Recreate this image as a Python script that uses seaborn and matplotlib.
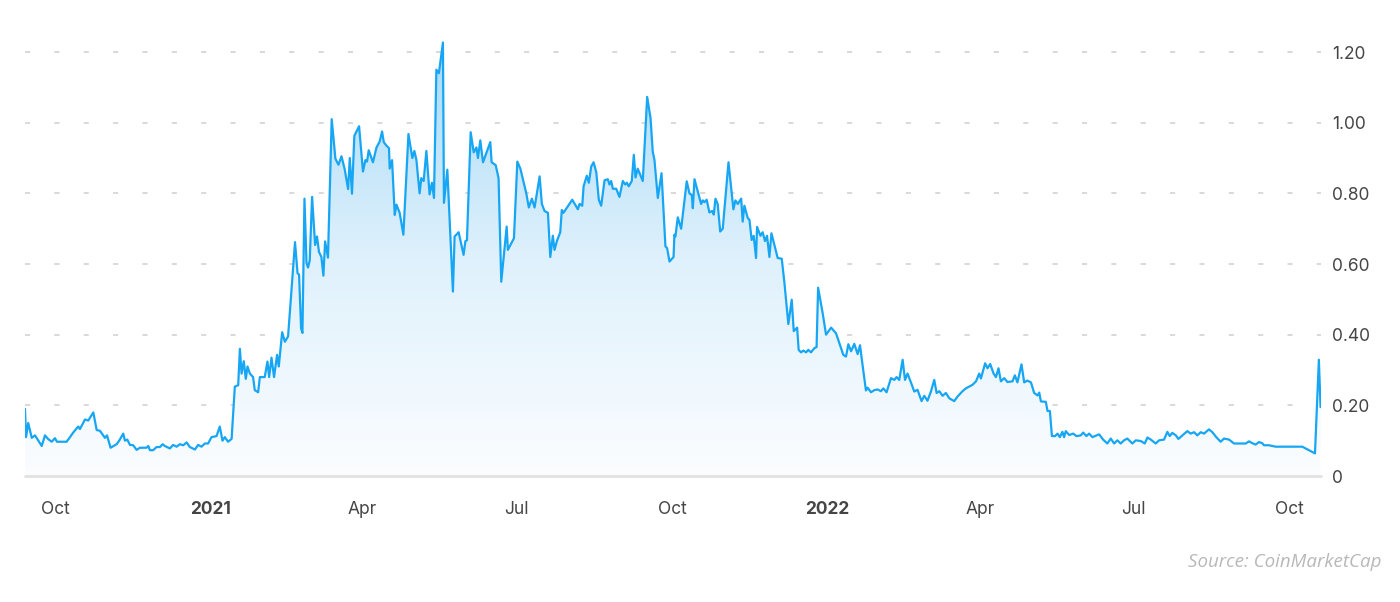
import numpy as np
import pandas as pd
import matplotlib
matplotlib.use("Agg")
import matplotlib.pyplot as plt
import matplotlib.dates as mdates
from matplotlib.colors import LinearSegmentedColormap
from matplotlib.patches import PathPatch
import seaborn as sns

# ---- data (days counted from START) ----
START = "2020-09-13"

day_offset = [
    0.3, 0.9, 2.2, 4.3, 6.2, 10.2, 12.1, 13.9, 16.1, 18.0,
    19.2, 24.9, 26.9, 28.8, 31.8, 32.8, 35.8, 37.7, 40.7, 42.7,
    44.6, 47.6, 48.8, 50.9, 54.5, 56.0, 58.4, 59.4, 60.8, 62.4,
    64.3, 66.3, 68.3, 72.2, 73.2, 74.2, 76.1, 78.1, 80.1, 81.7,
    83.0, 86.0, 87.9, 90.0, 91.9, 93.9, 95.9, 97.8, 100.8, 102.7,
    104.7, 106.7, 108.6, 110.6, 113.6, 115.5, 117.1, 118.5, 120.4, 122.5,
    124.4, 126.4, 127.4, 128.4, 129.7, 130.9, 131.9, 133.3, 135.2, 136.2,
    138.2, 139.2, 142.1, 143.7, 144.7, 146.1, 147.6, 149.4, 150.4, 152.4,
    154.0, 155.9, 157.9, 160.0, 161.5, 162.4, 163.6, 164.4, 165.6, 166.8,
    167.7, 168.7, 170.1, 171.9, 173.0, 174.2, 175.6, 176.8, 177.8, 179.5,
    181.7, 183.9, 185.7, 187.5, 189.4, 191.4, 192.4, 193.7, 195.1, 197.9,
    200.2, 201.6, 202.6, 203.6, 206.1, 208.2, 210.1, 211.5, 212.5, 214.1,
    215.6, 216.0, 217.4, 219.0, 220.0, 221.9, 224.1, 227.1, 229.4, 230.6,
    231.8, 233.7, 234.7, 236.1, 237.7, 239.6, 241.0, 242.2, 243.6, 245.1,
    247.5, 248.1, 250.1, 253.4, 254.4, 256.8, 259.7, 260.8, 261.7, 263.9,
    265.7, 267.3, 268.2, 269.6, 271.2, 275.5, 276.3, 278.7, 280.4, 282.0,
    285.2, 285.9, 289.5, 291.5, 293.3, 296.8, 298.3, 300.1, 301.7, 304.7,
    306.0, 307.6, 309.6, 311.0, 312.5, 313.5, 314.9, 316.9, 317.8, 318.8,
    324.0, 327.3, 328.3, 329.9, 330.7, 332.6, 333.8, 335.2, 336.6, 338.2,
    339.7, 341.1, 343.1, 345.0, 346.0, 347.0, 348.0, 350.0, 351.9, 353.9,
    355.3, 356.3, 357.4, 359.2, 360.4, 361.4, 362.7, 365.7, 368.3, 370.3,
    371.6, 372.6, 374.6, 376.8, 379.1, 380.1, 381.5, 383.9, 384.4, 385.0,
    386.4, 388.4, 391.7, 393.3, 394.7, 395.3, 396.3, 400.2, 401.2, 402.2,
    403.5, 405.1, 406.7, 407.7, 408.7, 410.0, 411.5, 413.0, 416.4, 419.3,
    420.5, 421.9, 423.9, 424.8, 425.8, 427.8, 428.8, 430.1, 431.3, 432.7,
    433.3, 435.3, 436.6, 438.0, 439.2, 440.6, 441.8, 445.5, 447.9, 449.5,
    451.8, 453.8, 455.0, 457.0, 457.9, 459.3, 460.7, 462.3, 463.6, 465.2,
    467.2, 468.5, 469.4, 472.1, 474.1, 477.1, 480.0, 484.3, 485.9, 487.3,
    488.9, 490.8, 492.8, 494.2, 495.7, 497.7, 498.7, 500.7, 502.6, 504.6,
    506.6, 508.0, 509.9, 512.5, 514.5, 515.8, 517.4, 519.4, 520.8, 522.3,
    524.3, 526.3, 528.2, 530.6, 532.2, 534.1, 536.2, 538.1, 539.5, 541.1,
    543.0, 545.0, 547.0, 549.9, 551.9, 554.8, 556.8, 558.8, 560.7, 562.8,
    564.7, 565.7, 568.2, 569.6, 571.2, 573.2, 574.6, 576.1, 577.5, 579.5,
    581.4, 584.4, 585.8, 587.3, 589.7, 591.3, 593.2, 595.3, 597.2, 599.2,
    600.2, 601.2, 604.1, 605.1, 606.5, 607.7, 609.6, 611.0, 612.4, 613.9,
    614.9, 615.9, 617.9, 620.3, 622.2, 624.8, 626.2, 628.1, 629.7, 631.7,
    635.6, 638.0, 640.5, 642.5, 644.5, 646.4, 648.4, 650.4, 652.3, 655.3,
    657.3, 660.3, 662.6, 664.2, 666.2, 669.1, 671.1, 674.0, 676.0, 677.4,
    678.9, 681.0, 682.5, 684.9, 687.8, 689.8, 691.8, 693.7, 695.7, 697.7,
    700.6, 702.6, 704.9, 707.5, 709.5, 712.5, 715.4, 718.4, 722.3, 724.3,
    726.2, 728.2, 730.2, 732.1, 733.1, 736.1, 738.0, 740.0, 755.8, 763.3,
    765.6, 766.6,
]

price = [
    0.19, 0.11, 0.15, 0.108, 0.115, 0.085, 0.115, 0.105, 0.097, 0.107,
    0.097, 0.097, 0.11, 0.123, 0.14, 0.133, 0.16, 0.157, 0.18, 0.13,
    0.128, 0.108, 0.115, 0.08, 0.09, 0.1, 0.12, 0.1, 0.103, 0.088,
    0.087, 0.074, 0.08, 0.08, 0.085, 0.073, 0.073, 0.082, 0.082, 0.09,
    0.085, 0.078, 0.088, 0.083, 0.09, 0.087, 0.095, 0.082, 0.075, 0.088,
    0.083, 0.092, 0.092, 0.11, 0.113, 0.14, 0.10, 0.11, 0.097, 0.105,
    0.253, 0.257, 0.36, 0.29, 0.325, 0.275, 0.31, 0.29, 0.28, 0.243,
    0.237, 0.28, 0.28, 0.324, 0.28, 0.335, 0.28, 0.343, 0.31, 0.407,
    0.38, 0.395, 0.527, 0.662, 0.574, 0.57, 0.418, 0.405, 0.785, 0.603,
    0.59, 0.61, 0.79, 0.654, 0.678, 0.634, 0.62, 0.567, 0.664, 0.618,
    1.01, 0.898, 0.881, 0.905, 0.868, 0.812, 0.9, 0.799, 0.963, 0.99,
    0.862, 0.894, 0.89, 0.922, 0.888, 0.93, 0.947, 0.975, 0.945, 0.935,
    0.928, 0.87, 0.894, 0.739, 0.768, 0.745, 0.683, 0.968, 0.9, 0.92,
    0.895, 0.80, 0.843, 0.835, 0.92, 0.797, 0.83, 0.787, 1.15, 1.14,
    1.227, 0.773, 0.867, 0.522, 0.678, 0.69, 0.626, 0.665, 0.667, 0.973,
    0.916, 0.93, 0.9, 0.95, 0.888, 0.945, 0.888, 0.88, 0.843, 0.55,
    0.706, 0.64, 0.673, 0.89, 0.87, 0.80, 0.76, 0.785, 0.76, 0.848,
    0.77, 0.75, 0.745, 0.62, 0.68, 0.64, 0.665, 0.69, 0.753, 0.745,
    0.782, 0.755, 0.77, 0.765, 0.82, 0.85, 0.83, 0.876, 0.888, 0.86,
    0.782, 0.765, 0.837, 0.84, 0.825, 0.835, 0.813, 0.813, 0.79, 0.835,
    0.825, 0.83, 0.82, 0.835, 0.909, 0.845, 0.87, 0.835, 1.073, 1.013,
    0.918, 0.895, 0.787, 0.857, 0.65, 0.645, 0.607, 0.62, 0.683, 0.678,
    0.732, 0.70, 0.834, 0.80, 0.795, 0.758, 0.84, 0.77, 0.78, 0.775,
    0.782, 0.746, 0.75, 0.74, 0.785, 0.77, 0.692, 0.70, 0.888, 0.755,
    0.78, 0.77, 0.785, 0.72, 0.765, 0.73, 0.725, 0.668, 0.68, 0.617,
    0.705, 0.68, 0.69, 0.665, 0.68, 0.62, 0.687, 0.617, 0.615, 0.546,
    0.43, 0.499, 0.41, 0.42, 0.357, 0.35, 0.355, 0.35, 0.357, 0.35,
    0.362, 0.365, 0.533, 0.461, 0.40, 0.42, 0.404, 0.343, 0.338, 0.373,
    0.353, 0.374, 0.345, 0.37, 0.314, 0.242, 0.25, 0.237, 0.243, 0.245,
    0.24, 0.248, 0.237, 0.277, 0.272, 0.28, 0.272, 0.329, 0.272, 0.29,
    0.265, 0.239, 0.244, 0.212, 0.227, 0.213, 0.24, 0.272, 0.235, 0.24,
    0.227, 0.235, 0.22, 0.212, 0.225, 0.24, 0.248, 0.253, 0.258, 0.268,
    0.29, 0.276, 0.319, 0.305, 0.317, 0.29, 0.28, 0.305, 0.268, 0.277,
    0.266, 0.268, 0.285, 0.265, 0.316, 0.265, 0.27, 0.265, 0.235, 0.228,
    0.236, 0.211, 0.21, 0.184, 0.184, 0.113, 0.113, 0.12, 0.11, 0.125,
    0.11, 0.127, 0.116, 0.12, 0.113, 0.115, 0.123, 0.113, 0.12, 0.11,
    0.118, 0.103, 0.092, 0.106, 0.092, 0.101, 0.092, 0.101, 0.106, 0.092,
    0.101, 0.099, 0.092, 0.109, 0.103, 0.092, 0.101, 0.103, 0.125, 0.113,
    0.122, 0.115, 0.105, 0.115, 0.127, 0.12, 0.124, 0.115, 0.124, 0.12,
    0.132, 0.124, 0.11, 0.097, 0.106, 0.103, 0.092, 0.092, 0.092, 0.098,
    0.093, 0.089, 0.096, 0.093, 0.087, 0.087, 0.085, 0.083, 0.083, 0.064,
    0.329, 0.195,
]

tick_dates = ["2020-10-01", "2021-01-01", "2021-04-01", "2021-07-01", "2021-10-01",
              "2022-01-01", "2022-04-01", "2022-07-01", "2022-10-01"]
tick_labels = ["Oct", "2021", "Apr", "Jul", "Oct", "2022", "Apr", "Jul", "Oct"]
year_labels = ["2021", "2022"]
y_ticks = [0, 0.2, 0.4, 0.6, 0.8, 1.0, 1.2]
y_labels = ["0", "0.20", "0.40", "0.60", "0.80", "1.00", "1.20"]

LINE = "#17a6f4"
TEXT = "#454545"

df = pd.DataFrame({
    "date": pd.Timestamp(START) + pd.to_timedelta(day_offset, unit="D"),
    "price": price,
})

sns.set_theme(style="white")
plt.rcParams["font.family"] = ["Inter", "DejaVu Sans"]

fig = plt.figure(figsize=(14, 6.02), dpi=100)
ax = fig.add_axes([0.0175, 0.2093, 0.926, 0.7336])

# line
sns.lineplot(data=df, x="date", y="price", estimator=None, sort=False,
             color=LINE, linewidth=1.6, ax=ax, zorder=4)

# gradient fill under the line
fill = ax.fill_between(df["date"], df["price"], 0, color="none", linewidth=0)
clip = PathPatch(fill.get_paths()[0], transform=ax.transData,
                 facecolor="none", edgecolor="none")
ax.add_patch(clip)
xnum = mdates.date2num(df["date"])
cmap = LinearSegmentedColormap.from_list("fade", ["#fbfdff", "#dff1fc", "#a7daf7"])
grad = np.linspace(1, 0, 256).reshape(-1, 1)
im = ax.imshow(grad, cmap=cmap, vmin=0, vmax=1, aspect="auto", origin="upper",
               extent=[xnum.min(), xnum.max(), 0, max(price)], zorder=2)
im.set_clip_path(clip)

# grid lines and baseline
for y in y_ticks[1:]:
    ax.axhline(y, color="#d8d8d8", linewidth=1.4, linestyle=(0, (2.6, 12.5)), zorder=1)
ax.axhline(0, color="#e2e2e2", linewidth=2, zorder=3, clip_on=False)

ax.set_xlim(mdates.date2num(pd.Timestamp(START)), mdates.date2num(pd.Timestamp(START) + pd.Timedelta(days=766.8)))
ax.set_ylim(0, 1.25)

ax.set_xticks(mdates.date2num(pd.to_datetime(tick_dates)))
ax.set_xticklabels(tick_labels)
ax.set_yticks(y_ticks)
ax.set_yticklabels(y_labels)
ax.yaxis.tick_right()
ax.tick_params(axis="x", length=0, pad=18, labelsize=12.5, labelcolor=TEXT)
ax.tick_params(axis="y", length=0, pad=8, labelsize=12.5, labelcolor=TEXT)
for lbl in ax.get_xticklabels():
    if lbl.get_text() in year_labels:
        lbl.set_fontweight("bold")

ax.set_xlabel("")
ax.set_ylabel("")
sns.despine(ax=ax, left=True, bottom=True)
ax.grid(False)

fig.text(1381 / 1400, 1 - 562 / 602, "Source: CoinMarketCap", ha="right", va="center",
         fontsize=13.5, style="italic", color="#b8b8b8", family=["Open Sans", "DejaVu Sans"])

fig.savefig("out.png", dpi=100)
